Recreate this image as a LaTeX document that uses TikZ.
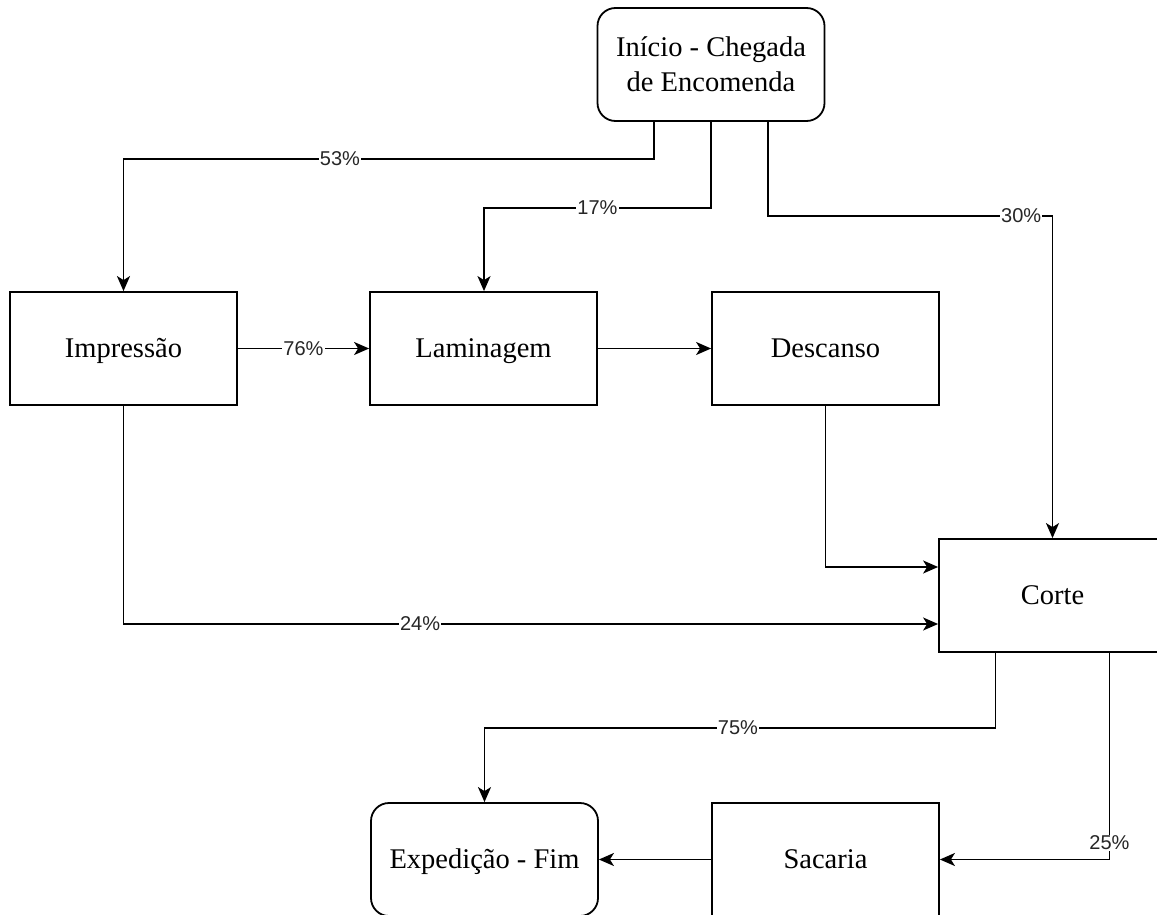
\documentclass[tikz,border=0pt]{standalone}
\usepackage{fontspec}
\setmainfont{Liberation Serif}
\newfontfamily\lblfont{Liberation Sans}
\usetikzlibrary{arrows.meta,calc}
\begin{document}
\begin{tikzpicture}[x=1pt,y=-1pt,
  box/.style={draw, line width=1.8pt, minimum width=227pt, minimum height=113pt, inner sep=0pt, align=center, font=\fontsize{28.5}{35}\selectfont},
  sbox/.style={box, text height=21pt, text depth=3pt},
  rbox/.style={box, rounded corners=18pt},
  conn/.style={line width=1.8pt, -{Stealth[length=15pt,width=13pt,inset=4pt]}},
  lbl/.style={fill=white, inner sep=1pt, font=\lblfont\fontsize{20}{24}\selectfont, text=black!85}]
\path[use as bounding box] (0,0) rectangle (1157,915);
\clip (0,0) rectangle (1157,915);

\node[rbox] (ini) at (711,64.5) {Início - Chegada\\de Encomenda};
\node[sbox] (impr) at (123.5,348.5) {Impressão};
\node[sbox] (lam) at (483.5,348.5) {Laminagem};
\node[sbox] (desc) at (825.5,348.5) {Descanso};
\node[sbox] (corte) at (1052.5,595.5) {Corte};
\node[rbox, sbox] (exp) at (484.5,859.5) {Expedição - Fim};
\node[sbox] (sac) at (825.5,859.5) {Sacaria};

\draw[conn] ([xshift=-57pt]ini.south) -- ++(0,37) -| node[lbl,pos=0.296] {53\%} (impr.north);
\draw[conn] (ini.south) -- ++(0,86) -| node[lbl,pos=0.25] {17\%} ([xshift=0.5pt]lam.north);
\draw[conn] ([xshift=57pt]ini.south) -- ++(0,94) -| node[lbl,pos=0.445] {30\%} (corte.north);
\draw[conn] (impr) -- node[lbl] {76\%} (lam);
\draw[conn] (lam) -- (desc);
\draw[conn] (desc.south) |- ([yshift=28.5pt]corte.west);
\draw[conn] (impr.south) |- node[lbl,pos=0.682] {24\%} ([yshift=-28.5pt]corte.west);
\draw[conn] ([xshift=-57pt]corte.south) -- ++(0,75) -| node[lbl,pos=0.252] {75\%} (exp.north);
\draw[conn] ([xshift=57pt]corte.south) |- node[lbl,pos=0.46] {25\%} (sac.east);
\draw[conn] (sac) -- (exp);
\end{tikzpicture}
\end{document}
